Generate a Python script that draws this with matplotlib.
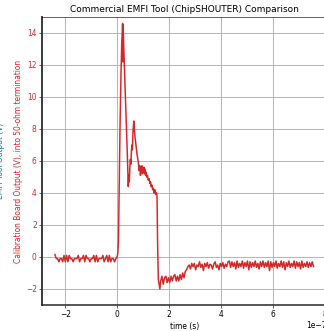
import numpy as np
import matplotlib
matplotlib.use("Agg")
import matplotlib.pyplot as plt

# scope capture, time in units of 1e-7 s, calibration board output in volts
pre_trigger_v = [0.15, -0.1, -0.1, -0.3, -0.1, -0.1, -0.3, 0.1, -0.3, 0.1, -0.3, 0.1,
                 -0.1, -0.1, -0.3, -0.1, -0.1, -0.1, 0.1, -0.3, -0.1, -0.1, 0.1, -0.3,
                 0.1, -0.1, -0.1, -0.3, -0.1, -0.1, 0.1, -0.3, 0.1, -0.3, -0.1, -0.1,
                 -0.1, 0.1, -0.3, -0.1, 0.1, -0.3, 0.1, -0.3, -0.1, -0.1, -0.3, -0.1, 0.0]

pulse_t = [0.03, 0.05, 0.08, 0.115, 0.15, 0.18, 0.20, 0.21, 0.215, 0.225, 0.23, 0.24,
           0.27, 0.30, 0.35, 0.39, 0.41, 0.43, 0.45, 0.47, 0.49, 0.51, 0.53, 0.55,
           0.57, 0.59, 0.61, 0.63, 0.645, 0.66, 0.69, 0.72, 0.76, 0.79, 0.82, 0.85,
           0.88, 0.90, 0.92, 0.94, 0.96, 0.98, 1.00, 1.02, 1.04, 1.06, 1.08, 1.10,
           1.12, 1.14, 1.17, 1.20, 1.23, 1.26, 1.29, 1.31, 1.34, 1.37, 1.40, 1.43,
           1.46, 1.49, 1.52, 1.54, 1.56, 1.59, 1.62, 1.65]
pulse_v = [0.3, 1.0, 4.5, 8.5, 11.5, 13.5, 14.0, 14.6, 13.8, 14.5, 12.2, 13.9,
           12.3, 10.9, 8.5, 6.6, 5.4, 4.4, 5.1, 4.7, 5.6, 6.1, 5.8, 6.6,
           7.0, 6.7, 7.8, 8.2, 8.5, 8.1, 7.5, 7.1, 6.5, 6.2, 5.9, 5.4,
           5.7, 5.1, 5.6, 5.3, 5.7, 5.2, 5.6, 5.3, 5.6, 5.2, 5.5, 5.1,
           5.3, 5.0, 5.1, 4.8, 4.9, 4.6, 4.7, 4.4, 4.5, 4.2, 4.3, 4.0,
           4.2, 3.9, 4.0, 3.8, 1.0, -1.4, -1.7, -2.0]

undershoot_v = [-1.5, -1.2, -1.7, -1.3, -1.2, -1.6, -1.3, -1.6, -1.2, -1.5, -1.2,
                -1.1, -1.5, -1.2, -1.5, -1.1, -1.4, -1.0, -1.3, -0.9, -0.8, -0.6]

settle_v = [-0.5, -0.75, -0.4, -0.6, -0.4, -0.8, -0.5, -0.6, -0.3, -0.65, -0.45,
            -0.85, -0.4, -0.6, -0.35, -0.7, -0.45, -0.5, -0.75, -0.45, -0.3, -0.65,
            -0.5, -0.8, -0.4, -0.6, -0.35, -0.7, -0.45, -0.6, -0.3,
            -0.25, -0.65, -0.3, -0.6, -0.35, -0.75, -0.25, -0.65, -0.4, -0.6, -0.25,
            -0.7, -0.35, -0.6, -0.25, -0.8, -0.3, -0.65, -0.35, -0.6, -0.25, -0.65,
            -0.4, -0.75, -0.3, -0.6, -0.25, -0.65, -0.35, -0.6, -0.25, -0.85, -0.3,
            -0.65, -0.35, -0.6, -0.25, -0.7, -0.4, -0.6, -0.25, -0.65, -0.3, -0.8,
            -0.35, -0.6, -0.25, -0.65, -0.4, -0.6, -0.25, -0.7, -0.3, -0.6, -0.35,
            -0.75, -0.25, -0.65, -0.4, -0.6, -0.3, -0.65, -0.35, -0.6, -0.3, -0.6]

# segments are sampled evenly between their start and end times
t = np.concatenate([
    np.linspace(-2.4, 0.0, len(pre_trigger_v)),
    pulse_t,
    np.linspace(1.68, 2.73, len(undershoot_v)),
    np.linspace(2.78, 7.58, len(settle_v)),
]) * 1e-7
v = np.concatenate([pre_trigger_v, pulse_v, undershoot_v, settle_v])

red = "tab:red"

fig = plt.figure(figsize=(6.0, 331 / 54), dpi=54)
ax = fig.add_axes([42 / 324, 26 / 331, 285 / 324, 288 / 331])

ax.plot(t, v, color=red, lw=2.0)

ax.set_xlim(-2.9e-7, 8.1e-7)
ax.set_ylim(-3, 15)
ax.set_xlabel("time (s)")
ax.set_ylabel("Calibration Board Output (V), into 50-ohm termination", color=red)
ax.tick_params(axis="y", labelcolor=red)
ax.set_title("Commercial EMFI Tool (ChipSHOUTER) Comparison")
ax.grid(True, color="#b0b0b0", lw=1.2)
ax.spines["left"].set_linewidth(2.5)
ax.spines["bottom"].set_linewidth(2.0)
ax.spines["left"].set_color("#333333")
ax.spines["bottom"].set_color("#222222")

# label of the tool output axis
fig.text(5 / 324, 0.515, "EMFI Tool Output (V)", color="tab:blue",
         rotation=90, ha="right", va="center", fontsize=10)

fig.savefig("out.png", dpi=54)
